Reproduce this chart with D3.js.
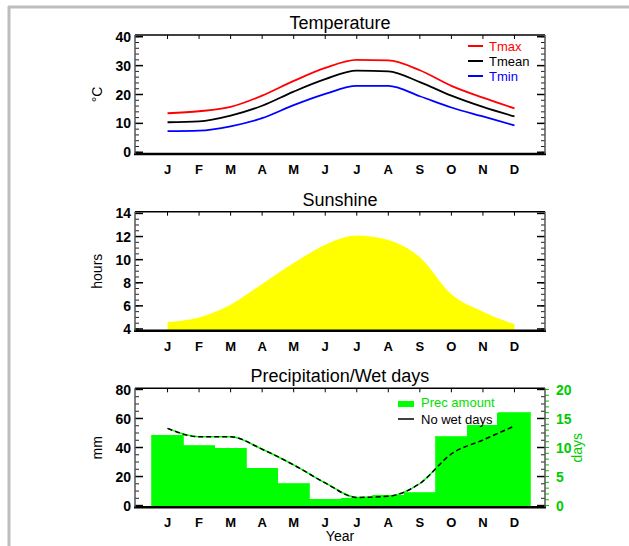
<!DOCTYPE html>
<html>
<head>
<meta charset="utf-8">
<script src="https://cdn.jsdelivr.net/npm/d3@7"></script>
<style>
  body { margin: 0; background: #fff; }
  svg { font-family: "Liberation Sans", Arial, Helvetica, sans-serif; }
  .ticklab { font-size: 14px; font-weight: bold; }
  .monthlab { font-size: 13px; font-weight: bold; }
  .title { font-size: 18px; }
  .legend { font-size: 13px; }
</style>
</head>
<body>
<div id="chart"></div>
<script>
// monthly climate values
const months = ["J", "F", "M", "A", "M", "J", "J", "A", "S", "O", "N", "D"];
const tmax  = [13.5, 14.2, 15.7, 19.6, 24.7, 29.2, 32.0, 31.8, 28.4, 23.0, 18.9, 15.2];
const tmean = [10.4, 10.7, 12.7, 16.1, 21.0, 25.3, 28.3, 28.0, 24.3, 19.6, 15.7, 12.4];
const tmin  = [7.3, 7.5, 9.0, 11.8, 16.3, 20.2, 23.0, 23.0, 19.4, 15.5, 12.4, 9.3];
const sunshine = [4.6, 5.0, 6.1, 7.9, 9.7, 11.3, 12.1, 11.7, 10.2, 7.0, 5.5, 4.4];
const precip = [48.6, 41.2, 39.4, 25.7, 15.0, 4.5, 5.0, 7.0, 8.8, 47.4, 63.5, 64.0];
const wetDays = [13.3, 11.85, 11.85, 9.7, 7.0, 3.9, 1.4, 1.6, 3.8, 8.9, 11.3, 13.7];

const tempTicks = [0, 10, 20, 30, 40];
const sunTicks = [4, 6, 8, 10, 12, 14];
const mmTicks = [0, 20, 40, 60, 80];
const dayTicks = [0, 5, 10, 15, 20];

const W = 629, H = 546;
const left = 135, right = 545, boxH = 119;

const svg = d3.select("#chart").append("svg")
    .attr("width", W)
    .attr("height", H);

// grey page frame (top + left)
svg.append("line").attr("x1", 8).attr("x2", W).attr("y1", 7).attr("y2", 7)
    .attr("stroke", "#bdbdbd").attr("stroke-width", 3);
svg.append("line").attr("x1", 9).attr("x2", 9).attr("y1", 6).attr("y2", H)
    .attr("stroke", "#bdbdbd").attr("stroke-width", 3);

// shared month scale: months sit at 1..12
const x = d3.scaleLinear().domain([0, 13]).range([136, 546]);

// draws title, ticks and labels of one panel
function panel(top, y, ticks, minor, title, ytitle) {
  const bottom = top + boxH;
  const g = svg.append("g");

  g.append("text").attr("class", "title")
      .attr("x", (left + right) / 2).attr("y", top - 6)
      .attr("text-anchor", "middle").text(title);

  // minor ticks left + right
  const lo = y.domain()[0], hi = y.domain()[1];
  const minors = d3.range(Math.ceil(lo / minor) * minor, hi, minor);
  g.selectAll(".mnl").data(minors).enter().append("line")
      .attr("x1", left).attr("x2", left + 4)
      .attr("y1", d => y(d)).attr("y2", d => y(d))
      .attr("stroke", "#222").attr("stroke-width", 1);
  g.selectAll(".mnr").data(minors).enter().append("line")
      .attr("x1", right).attr("x2", right - 4)
      .attr("y1", d => y(d)).attr("y2", d => y(d))
      .attr("stroke", "#222").attr("stroke-width", 1);

  // major ticks
  g.selectAll(".mjl").data(ticks).enter().append("line")
      .attr("x1", left).attr("x2", left + 8)
      .attr("y1", d => y(d)).attr("y2", d => y(d))
      .attr("stroke", "#000").attr("stroke-width", 1.5);
  g.selectAll(".mjr").data(ticks).enter().append("line")
      .attr("x1", right).attr("x2", right - 8)
      .attr("y1", d => y(d)).attr("y2", d => y(d))
      .attr("stroke", "#000").attr("stroke-width", 1.5);

  g.selectAll(".tl").data(ticks).enter().append("text")
      .attr("class", "ticklab")
      .attr("x", left - 4).attr("y", d => y(d))
      .attr("dy", "0.36em").attr("text-anchor", "end")
      .text(d => d);

  // month ticks along top
  g.selectAll(".mt").data(months).enter().append("line")
      .attr("x1", (d, i) => x(i + 1)).attr("x2", (d, i) => x(i + 1))
      .attr("y1", top).attr("y2", top + 4)
      .attr("stroke", "#000").attr("stroke-width", 1);

  g.selectAll(".ml").data(months).enter().append("text")
      .attr("class", "monthlab")
      .attr("x", (d, i) => x(i + 1)).attr("y", bottom + 20)
      .attr("text-anchor", "middle").text(d => d);

  g.append("text").attr("class", "legend")
      .attr("transform", "translate(102," + (top + boxH / 2) + ") rotate(-90)")
      .attr("text-anchor", "middle").style("font-size", "14px")
      .text(ytitle);

  return g;
}

function frame(top) {
  const bottom = top + boxH;
  svg.append("line").attr("x1", left).attr("x2", right).attr("y1", top).attr("y2", top)
      .attr("stroke", "#000").attr("stroke-width", 1.5);
  svg.append("line").attr("x1", left - 1).attr("x2", right + 1).attr("y1", bottom).attr("y2", bottom)
      .attr("stroke", "#000").attr("stroke-width", 2.5);
  svg.append("line").attr("x1", left).attr("x2", left).attr("y1", top).attr("y2", bottom)
      .attr("stroke", "#555").attr("stroke-width", 1.5);
  svg.append("line").attr("x1", right).attr("x2", right).attr("y1", top).attr("y2", bottom)
      .attr("stroke", "#555").attr("stroke-width", 1.5);
}

// ---- Temperature
const t0 = 35;
const yT = d3.scaleLinear().domain([-0.6, 40.6]).range([t0 + boxH, t0]);
panel(t0, yT, tempTicks, 2, "Temperature", "°C");

const tLine = d3.line()
    .x((d, i) => x(i + 1))
    .y(d => yT(d))
    .curve(d3.curveMonotoneX);

const tempSeries = [
  {name: "Tmax", values: tmax, color: "#ff0000"},
  {name: "Tmean", values: tmean, color: "#000000"},
  {name: "Tmin", values: tmin, color: "#0000ff"}
];

svg.selectAll(".tline").data(tempSeries).enter().append("path")
    .attr("d", d => tLine(d.values))
    .attr("fill", "none")
    .attr("stroke", d => d.color)
    .attr("stroke-width", 1.8);

const tLeg = svg.append("g").selectAll("g").data(tempSeries).enter().append("g")
    .attr("transform", (d, i) => "translate(468," + (46 + i * 15) + ")");
tLeg.append("line").attr("x1", 0).attr("x2", 15)
    .attr("stroke", d => d.color).attr("stroke-width", 2);
tLeg.append("text").attr("class", "legend")
    .attr("x", 21).attr("dy", "0.36em")
    .attr("fill", d => d.color).text(d => d.name);

frame(t0);

// ---- Sunshine
const s0 = 211.7;
const yS = d3.scaleLinear().domain([3.85, 14.15]).range([s0 + boxH, s0]);
panel(s0, yS, sunTicks, 0.5, "Sunshine", "hours");

svg.append("path")
    .attr("d", d3.area()
        .x((d, i) => x(i + 1))
        .y0(s0 + boxH)
        .y1(d => yS(d))
        .curve(d3.curveMonotoneX)(sunshine))
    .attr("fill", "#ffff00");

frame(s0);

// ---- Precipitation / wet days
const p0 = 388.3;
const yP = d3.scaleLinear().domain([-1.2, 80.8]).range([p0 + boxH, p0]);
const yD = d3.scaleLinear().domain([-0.3, 20.2]).range([p0 + boxH, p0]);
panel(p0, yP, mmTicks, 5, "Precipitation/Wet days", "mm");

svg.selectAll(".bar").data(precip).enter().append("rect")
    .attr("x", (d, i) => x(i + 0.5))
    .attr("width", x(1) - x(0))
    .attr("y", d => yP(d))
    .attr("height", d => p0 + boxH - yP(d))
    .attr("fill", "#00ff00")
    .attr("stroke", "#00ff00")
    .attr("stroke-width", 0.8)
    .attr("shape-rendering", "crispEdges");

const dLine = d3.line()
    .x((d, i) => x(i + 1))
    .y(d => yD(d))
    .curve(d3.curveMonotoneX);
svg.append("path").attr("d", dLine(wetDays))
    .attr("fill", "none").attr("stroke", "#00ff00").attr("stroke-width", 1.5);
svg.append("path").attr("d", dLine(wetDays))
    .attr("fill", "none").attr("stroke", "#000").attr("stroke-width", 1.5)
    .attr("stroke-dasharray", "5,3");

// right days axis
const rAx = svg.append("g");
rAx.selectAll("line.mn").data(d3.range(0, 21, 1)).enter().append("line")
    .attr("x1", right).attr("x2", right + 4)
    .attr("y1", d => yD(d)).attr("y2", d => yD(d))
    .attr("stroke", "#00c000").attr("stroke-width", 1);
rAx.selectAll("text").data(dayTicks).enter().append("text")
    .attr("class", "ticklab")
    .attr("x", right + 11).attr("y", d => yD(d)).attr("dy", "0.36em")
    .attr("fill", "#00cc00").text(d => d);
rAx.append("text")
    .attr("transform", "translate(582," + (p0 + boxH / 2) + ") rotate(-90)")
    .attr("text-anchor", "middle").attr("fill", "#00cc00")
    .style("font-size", "14px").text("days");

// legend
svg.append("rect").attr("x", 398).attr("y", 401).attr("width", 16).attr("height", 6)
    .attr("fill", "#00ff00");
svg.append("text").attr("class", "legend").attr("x", 421).attr("y", 402)
    .attr("dy", "0.36em").attr("fill", "#00e000").text("Prec amount");
const nw = svg.append("g");
nw.append("rect").attr("x", 418).attr("y", 412.5).attr("width", 79).attr("height", 12.5)
    .attr("fill", "#fff");
nw.append("line").attr("x1", 398).attr("x2", 414).attr("y1", 419).attr("y2", 419)
    .attr("stroke", "#000").attr("stroke-width", 1.5);
nw.append("text").attr("class", "legend").attr("x", 421).attr("y", 419)
    .attr("dy", "0.36em").text("No wet days");

frame(p0);

svg.append("text").attr("x", (left + right) / 2).attr("y", 541)
    .attr("text-anchor", "middle").style("font-size", "14px").text("Year");
</script>
</body>
</html>
